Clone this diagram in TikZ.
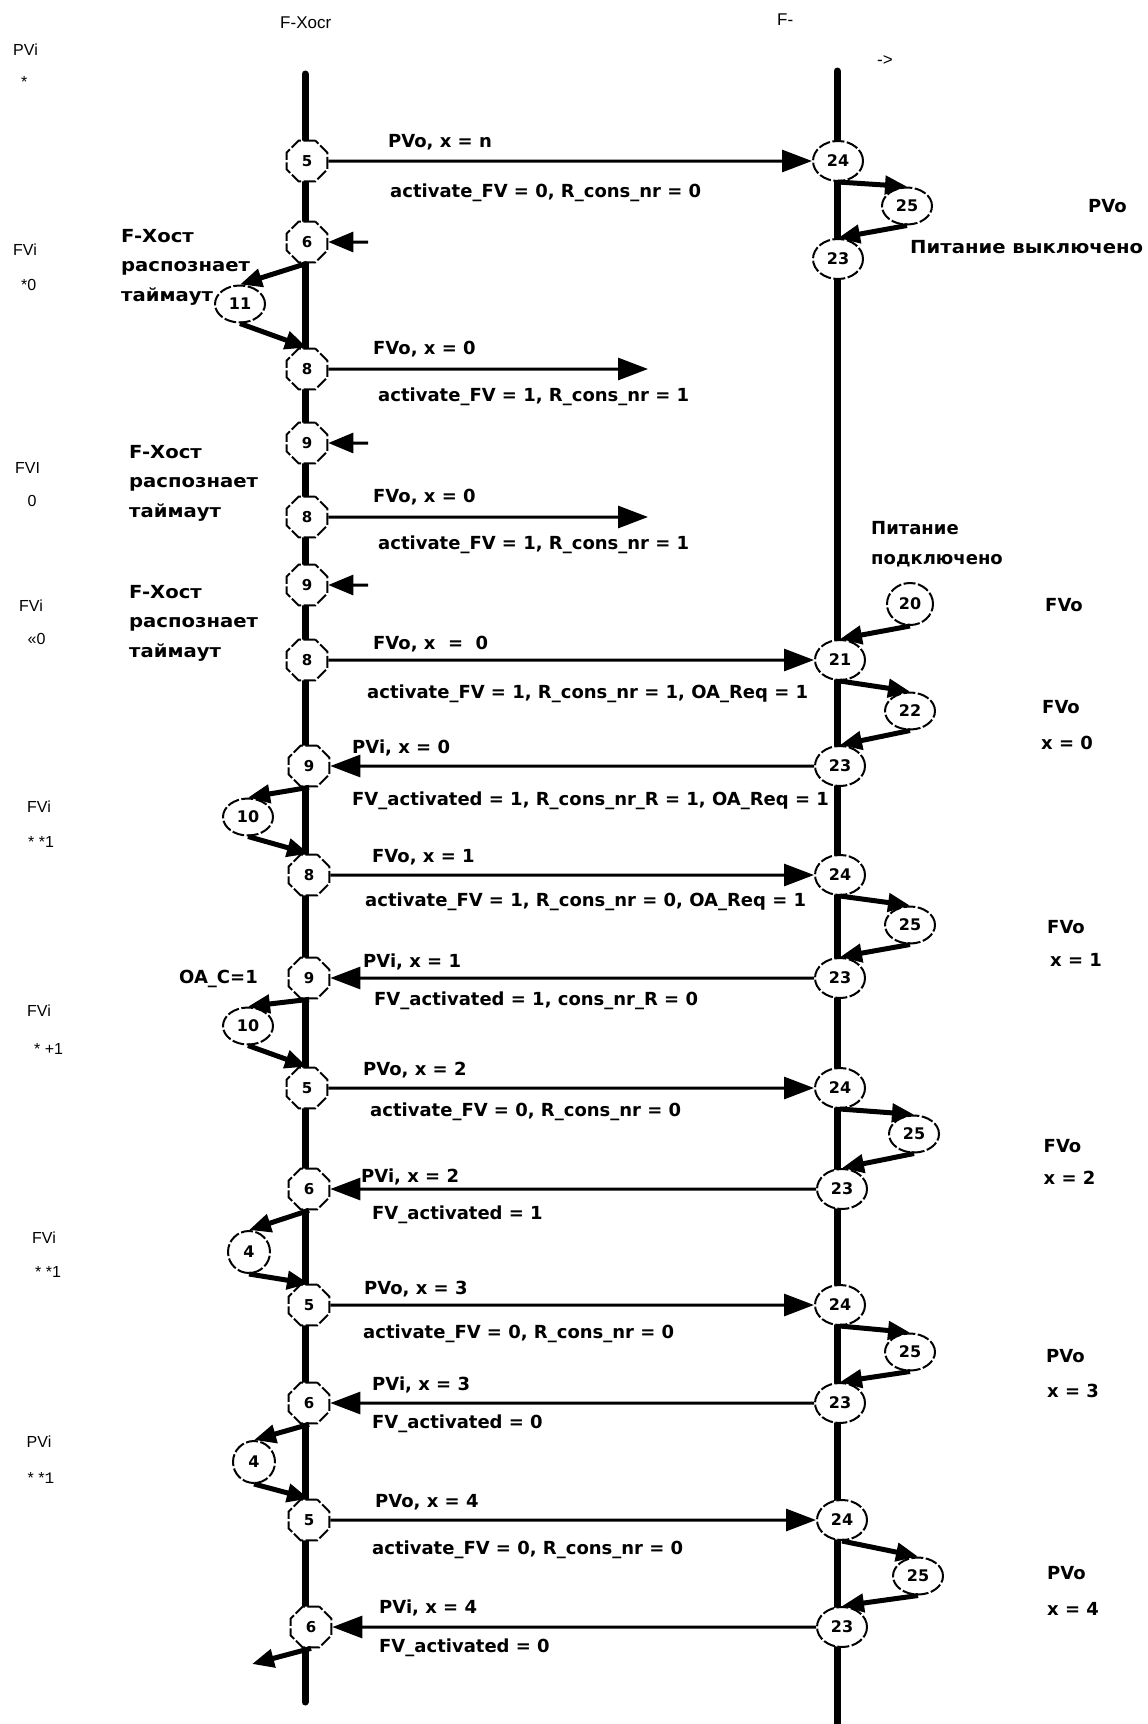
\documentclass[tikz,border=0pt]{standalone}
\usepackage{fontspec}
\setmainfont{DejaVu Sans}
\newfontfamily\labfont{Liberation Sans}
\newfontfamily\lmono{Liberation Mono}
\newfontfamily\widefont[FakeStretch=1.09]{DejaVu Sans}
\usetikzlibrary{arrows.meta,shapes.geometric}
\tikzset{
  lifeline/.style={line width=7pt, line cap=round},
  msgtext/.style={anchor=base west, inner sep=0pt, font=\fontsize{18}{20}\selectfont\bfseries},
  widetext/.style={anchor=base west, inner sep=0pt, font=\widefont\fontsize{18}{20}\selectfont\bfseries},
  lbl/.style={anchor=base west, inner sep=0pt, font=\labfont\fontsize{16}{18}\selectfont},
  toplbl/.style={anchor=base west, inner sep=0pt, font=\labfont\fontsize{17}{19}\selectfont},
  lnode/.style={regular polygon, regular polygon sides=8, minimum size=44pt, draw, line width=2pt,
    dash pattern=on 12pt off 2.5pt, fill=white, inner sep=0pt, font=\fontsize{15}{17}\selectfont\bfseries},
  rnode/.style={ellipse, minimum width=50pt, minimum height=40pt, draw, line width=2pt,
    dash pattern=on 12pt off 2.5pt, fill=white, inner sep=0pt, font=\fontsize{16}{18}\selectfont\bfseries},
  loopnode/.style={ellipse, minimum width=50pt, minimum height=37pt, draw, line width=2pt,
    dash pattern=on 12pt off 2.5pt, fill=white, inner sep=0pt, font=\fontsize{16}{18}\selectfont\bfseries},
  smallloop/.style={loopnode, minimum width=42pt, minimum height=42pt},
  msg/.style={line width=3pt, -{Triangle[length=30pt,width=22pt]}},
  loopar/.style={line width=5pt, -{Triangle[length=22pt,width=18pt]}},
  inar/.style={line width=3pt, -{Triangle[length=25pt,width=20pt]}},
}
\begin{document}
\begin{tikzpicture}[x=1pt,y=-1pt]
\fill[white] (0,0) rectangle (1148,1724);
\useasboundingbox (0,0) rectangle (1148,1724);

% lifelines
\coordinate (LT) at (305,74);
\coordinate (LB) at (305,1702);
\coordinate (RT) at (837,71);
\coordinate (RB) at (837,1730);
\draw[lifeline] (LT) -- (LB);
\draw[lifeline] (RT) -- (RB);

% top labels
\node[toplbl] (hdrL) at (280,28) {F-Xocr};
\node[toplbl] (hdrR) at (777,25) {F-};
\node[toplbl] (hdrA) at (877,65) {->};

% left labels
\node[lbl] (a1) at (13,55.5) {PVi};
\node[lbl] (a2) at (21,87.5) {*};
\node[lbl] (a3) at (13,255) {FVi};
\node[lbl] (a4) at (21,290) {*0};
\node[lbl] (a5) at (15,473) {FVI};
\node[lbl] (a6) at (27.5,506) {0};
\node[lbl] (a7) at (19,611) {FVi};
\node[lbl] (a8) at (27.5,644) {«0};
\node[lbl] (a9) at (27,812) {FVi};
\node[lbl] (a10) at (28,847) {* *1};
\node[lbl] (a11) at (27,1016.5) {FVi};
\node[lbl] (a12) at (34,1054) {* +1};
\node[lbl] (a13) at (32,1243) {FVi};
\node[lbl] (a14) at (35,1277) {* *1};
\node[lbl] (a15) at (26.5,1447.6) {PVi};
\node[lbl] (a16) at (27.5,1483) {* *{\lmono 1}};

% left lifeline nodes
\node[lnode] (L1) at (307,161) {5};
\node[lnode] (L2) at (307,242) {6};
\node[loopnode] (K1) at (240,304) {11};
\node[lnode] (L3) at (307,369) {8};
\node[lnode] (L4) at (307,443) {9};
\node[lnode] (L5) at (307,517) {8};
\node[lnode] (L6) at (307,585) {9};
\node[lnode] (L7) at (307,660) {8};
\node[lnode] (L8) at (309,766) {9};
\node[loopnode] (K2) at (248,817) {10};
\node[lnode] (L9) at (309,875) {8};
\node[lnode] (L10) at (309,978) {9};
\node[loopnode] (K3) at (248,1026) {10};
\node[lnode] (L11) at (307,1088) {5};
\node[lnode] (L12) at (309,1189) {6};
\node[smallloop] (K4) at (249,1252) {4};
\node[lnode] (L13) at (309,1305) {5};
\node[lnode] (L14) at (309,1403) {6};
\node[smallloop] (K5) at (254,1462) {4};
\node[lnode] (L15) at (309,1520) {5};
\node[lnode] (L16) at (311,1627) {6};

% right lifeline nodes
\node[rnode] (R1) at (838,161) {24};
\node[loopnode] (Q1) at (907,206) {25};
\node[rnode] (R2) at (838,259) {23};
\node[loopnode, minimum width=46pt, minimum height=42pt] (P20) at (910,604) {20};
\node[rnode] (R3) at (840,660) {21};
\node[loopnode] (Q2) at (910,711) {22};
\node[rnode] (R4) at (840,766) {23};
\node[rnode] (R5) at (840,875) {24};
\node[loopnode] (Q3) at (910,925) {25};
\node[rnode] (R6) at (840,978) {23};
\node[rnode] (R7) at (840,1088) {24};
\node[loopnode] (Q4) at (914,1134) {25};
\node[rnode] (R8) at (842,1189) {23};
\node[rnode] (R9) at (840,1305) {24};
\node[loopnode] (Q5) at (910,1352) {25};
\node[rnode] (R10) at (840,1403) {23};
\node[rnode] (R11) at (842,1520) {24};
\node[loopnode] (Q6) at (918,1576) {25};
\node[rnode] (R12) at (842,1627) {23};

% messages
\coordinate (D1) at (648,369);
\coordinate (D2) at (648,517);
\draw[msg] (L1) -- (R1);
\draw[msg] (L3) -- (D1);
\draw[msg] (L5) -- (D2);
\draw[msg] (L7) -- (R3);
\draw[msg] (R4) -- (L8);
\draw[msg] (L9) -- (R5);
\draw[msg] (R6) -- (L10);
\draw[msg] (L11) -- (R7);
\draw[msg] (R8) -- (L12);
\draw[msg] (L13) -- (R9);
\draw[msg] (R10) -- (L14);
\draw[msg] (L15) -- (R11);
\draw[msg] (R12) -- (L16);

% short incoming arrows (timeouts)
\coordinate (I1) at (368,242);
\coordinate (I2) at (368,443);
\coordinate (I3) at (368,585);
\draw[inar] (I1) -- (L2);
\draw[inar] (I2) -- (L4);
\draw[inar] (I3) -- (L6);

% left loops
\draw[loopar] (L2.south) -- (K1.north);
\draw[loopar] (K1.south) -- (L3.north);
\draw[loopar] (L8.south) -- (K2.north);
\draw[loopar] (K2.south) -- (L9.north);
\draw[loopar] (L10.south) -- (K3.north);
\draw[loopar] (K3.south) -- (L11.north);
\draw[loopar] (L12.south) -- (K4.north);
\draw[loopar] (K4.south) -- (L13.north);
\draw[loopar] (L14.south) -- (K5.north);
\draw[loopar] (K5.south) -- (L15.north);
\coordinate (E1) at (252,1664);
\draw[loopar] (L16.south) -- (E1);

% right loops
\draw[loopar] (R1.south) -- (Q1.north);
\draw[loopar] (Q1.south) -- (R2.north);
\draw[loopar] (P20.south) -- (R3.north);
\draw[loopar] (R3.south) -- (Q2.north);
\draw[loopar] (Q2.south) -- (R4.north);
\draw[loopar] (R5.south) -- (Q3.north);
\draw[loopar] (Q3.south) -- (R6.north);
\draw[loopar] (R7.south) -- (Q4.north);
\draw[loopar] (Q4.south) -- (R8.north);
\draw[loopar] (R9.south) -- (Q5.north);
\draw[loopar] (Q5.south) -- (R10.north);
\draw[loopar] (R11.south) -- (Q6.north);
\draw[loopar] (Q6.south) -- (R12.north);

% message labels
\node[msgtext] (m1a) at (388,147) {PVo, x = n};
\node[msgtext] (m1b) at (390,197.5) {activate\_FV = 0, R\_cons\_nr = 0};
\node[msgtext] (m2a) at (373,354) {FVo, x = 0};
\node[msgtext] (m2b) at (378,401.5) {activate\_FV = 1, R\_cons\_nr = 1};
\node[msgtext] (m3a) at (373,502.5) {FVo, x = 0};
\node[msgtext] (m3b) at (378,549.5) {activate\_FV = 1, R\_cons\_nr = 1};
\node[msgtext] (m4a) at (373,649.5) {FVo, x \ = \ 0};
\node[msgtext] (m4b) at (367,698.5) {activate\_FV = 1, R\_cons\_nr = 1, OA\_Req = 1};
\node[msgtext] (m5a) at (352,753) {PVi, x = 0};
\node[msgtext] (m5b) at (352,805.5) {FV\_activated = 1, R\_cons\_nr\_R = 1, OA\_Req = 1};
\node[msgtext] (m6a) at (372,862) {FVo, x = 1};
\node[msgtext] (m6b) at (365,906) {activate\_FV = 1, R\_cons\_nr = 0, OA\_Req = 1};
\node[msgtext] (m7a) at (363,967.5) {PVi, x = 1};
\node[msgtext] (m7b) at (374,1005) {FV\_activated = 1, cons\_nr\_R = 0};
\node[msgtext] (m8a) at (363,1075.5) {PVo, x = 2};
\node[msgtext] (m8b) at (370,1116) {activate\_FV = 0, R\_cons\_nr = 0};
\node[msgtext] (m9a) at (361,1182) {PVi, x = 2};
\node[msgtext] (m9b) at (372,1219.5) {FV\_activated = 1};
\node[msgtext] (m10a) at (364,1294) {PVo, x = 3};
\node[msgtext] (m10b) at (363,1338) {activate\_FV = 0, R\_cons\_nr = 0};
\node[msgtext] (m11a) at (372,1390.5) {PVi, x = 3};
\node[msgtext] (m11b) at (372,1428) {FV\_activated = 0};
\node[msgtext] (m12a) at (375,1507.5) {PVo, x = 4};
\node[msgtext] (m12b) at (372,1554.5) {activate\_FV = 0, R\_cons\_nr = 0};
\node[msgtext] (m13a) at (379,1613) {PVi, x = 4};
\node[msgtext] (m13b) at (379,1652.5) {FV\_activated = 0};

% timeout notes
\node[widetext] (t1a) at (121,242) {F-Хост};
\node[widetext] (t1b) at (121,271.5) {распознает};
\node[widetext] (t1c) at (121,301) {таймаут};
\node[widetext] (t2a) at (129,458) {F-Хост};
\node[widetext] (t2b) at (129,487.5) {распознает};
\node[widetext] (t2c) at (129,517) {таймаут};
\node[widetext] (t3a) at (129,598) {F-Хост};
\node[widetext] (t3b) at (129,627.5) {распознает};
\node[widetext] (t3c) at (129,657) {таймаут};
\node[msgtext] (oac) at (179,983) {OA\_C=1};

% right notes
\node[msgtext] (n1) at (1088,212) {PVo};
\node[widetext] (n2) at (910,253) {Питание выключено};
\node[msgtext] (n3) at (871,534.5) {Питание};
\node[msgtext] (n4) at (871,564) {подключено};
\node[msgtext] (n5) at (1045,611.5) {FVo};
\node[msgtext] (n6) at (1042,713.5) {FVo};
\node[msgtext] (n7) at (1041,749.5) {x = 0};
\node[msgtext] (n8) at (1047,933.5) {FVo};
\node[msgtext] (n9) at (1050,966.5) {x = 1};
\node[msgtext] (n10) at (1043.5,1152.5) {FVo};
\node[msgtext] (n11) at (1043.5,1184) {x = 2};
\node[msgtext] (n12) at (1046,1362.5) {PVo};
\node[msgtext] (n13) at (1047,1397.5) {x = 3};
\node[msgtext] (n14) at (1047,1579) {PVo};
\node[msgtext] (n15) at (1047,1615) {x = 4};
\end{tikzpicture}
\end{document}
